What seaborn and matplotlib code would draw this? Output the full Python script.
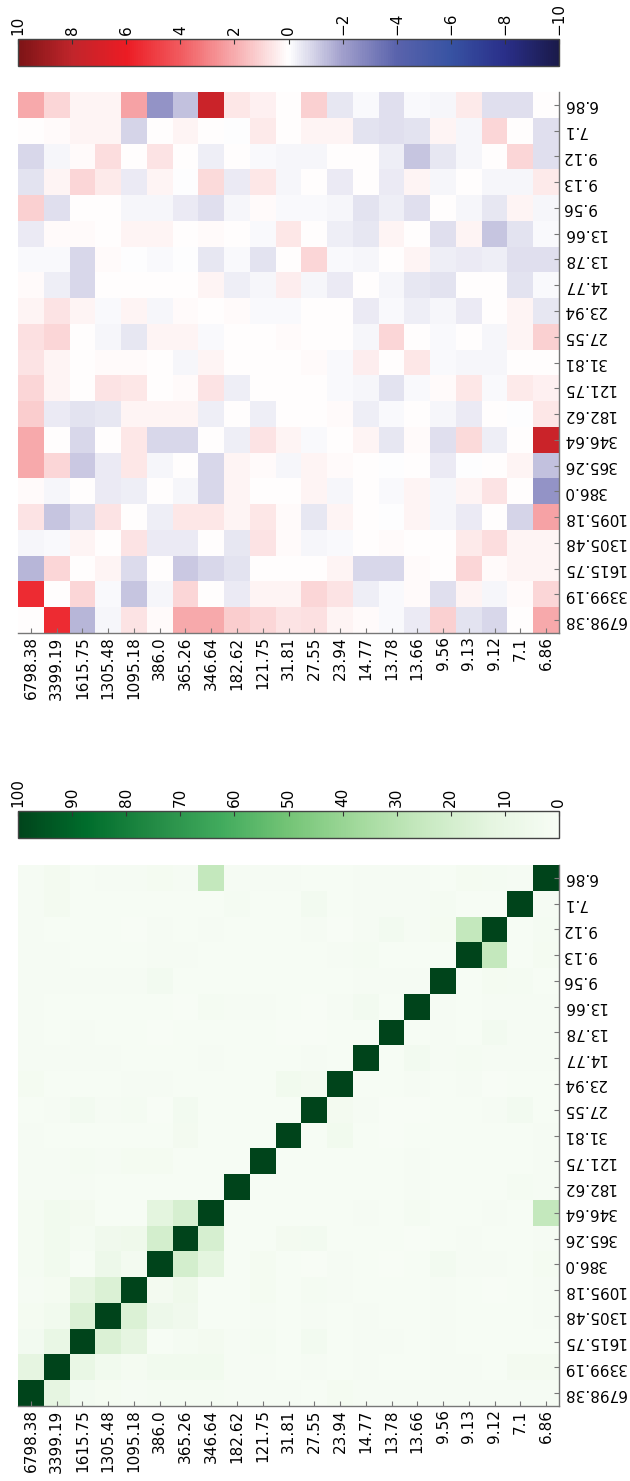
import numpy as np
import pandas as pd
import matplotlib
matplotlib.use("Agg")
import matplotlib.pyplot as plt
import seaborn as sns
from matplotlib.colors import LinearSegmentedColormap

labels = ["6798.38", "3399.19", "1615.75", "1305.48", "1095.18", "386.0",
          "365.26", "346.64", "182.62", "121.75", "31.81", "27.55", "23.94",
          "14.77", "13.78", "13.66", "9.56", "9.13", "9.12", "7.1", "6.86"]

# lower triangle (row i, columns 0..i-1) of the symmetric similarity matrix (%)
similarity_lower = [
    [],
    [12],
    [3.5, 10],
    [2.5, 4, 17],
    [1.5, 2.5, 12, 17],
    [2, 4, 0.5, 7, 3],
    [2, 4, 2, 5, 6, 20],
    [2, 4, 3, 0.5, 1, 13, 19],
    [1.5, 1.5, 1.5, 1, 1, 1, 1, 1],
    [1.5, 1.5, 2, 1.5, 2.5, 2.5, 0.5, 0.5, 0.5],
    [1.5, 0.5, 1, 1, 1, 0.5, 3, 1, 1, 1],
    [1, 1.5, 3.5, 1.5, 2, 0.3, 3.5, 0.5, 1, 1, 1],
    [2.5, 0.5, 0.5, 1, 1.5, 1.5, 1, 1, 1, 1, 4, 3],
    [1.5, 1.5, 1.5, 1.5, 1, 1, 1, 1.5, 1, 1, 1, 1.5, 1],
    [1.5, 0.5, 1.5, 0.5, 1, 0.3, 1, 1, 1, 1, 0.3, 0.3, 1, 1],
    [1.5, 0.5, 1, 1, 1, 1, 0.3, 2, 1.5, 1.5, 0.5, 0.3, 1.5, 3.5, 1],
    [1.5, 1.5, 1.5, 1.5, 1.5, 3.5, 0.5, 1, 1, 1, 0.5, 1, 0.5, 1.5, 1.5, 1.5],
    [1.5, 1.5, 1, 1, 1, 1.5, 1.5, 1, 1, 0.5, 0.5, 1, 1.5, 2, 1, 0.5, 0.5],
    [1.5, 0.5, 1, 1, 0.3, 1.5, 1, 1.5, 1, 1, 1, 1.5, 0.3, 1.5, 3.5, 1.5, 2.5, 26],
    [1.5, 3, 1, 1, 1, 0.5, 0.5, 0.8, 2, 0.5, 0.5, 3.5, 1, 1.5, 1.5, 1.5, 2, 0.5, 0.5],
    [1.5, 3, 0.5, 1.5, 1.5, 2.5, 1.5, 26, 1.5, 1.5, 1.5, 0.8, 1, 1.5, 1.5, 1.5, 1, 2.5, 2, 1.5],
]
similarity_diag = 100

# lower triangle of the symmetric difference matrix
difference_lower = [
    [],
    [5.5],
    [-1.5, 1.0],
    [-0.2, -0.1, 0.25],
    [0.65, -1.25, -0.75, 0.7],
    [0.1, -0.2, 0, -0.45, -0.35],
    [2.1, 0.95, -1.15, -0.45, 0.55, -0.2],
    [2.05, 0.05, -0.8, 0, 0.6, -0.8, -0.8],
    [1.2, -0.45, -0.55, -0.5, 0.3, 0.3, 0.3, -0.35],
    [0.95, 0.3, 0, 0.7, 0.55, 0, 0.1, 0.7, -0.35],
    [0.65, 0.25, 0, 0.1, 0.1, 0, -0.2, 0.25, 0, 0],
    [0.75, 1.0, 0, -0.2, -0.5, 0.3, 0.3, -0.1, 0, 0, 0.1],
    [0.3, 0.7, 0.25, -0.1, 0.25, -0.2, 0.1, 0, 0.1, -0.1, -0.1, 0],
    [0.1, -0.35, -0.85, 0, 0, 0, 0, 0.25, -0.35, -0.2, 0.45, -0.2, -0.45],
    [-0.1, -0.1, -0.8, 0.1, -0.05, -0.1, -0.05, -0.5, -0.1, -0.6, 0, 1.0, -0.1, -0.2],
    [-0.45, 0.1, 0.1, 0, 0.25, 0.3, 0, 0.1, 0, -0.1, 0.55, 0, -0.35, -0.5, 0.3],
    [1.1, -0.7, 0, 0, -0.2, -0.2, -0.45, -0.65, -0.2, 0.1, -0.15, -0.15, -0.2, -0.6, -0.35, -0.65],
    [-0.6, 0.25, 1.0, 0.5, -0.45, 0.25, -0.05, 0.9, -0.45, 0.55, -0.2, 0, -0.45, 0, -0.45, 0.25, -0.2],
    [-0.85, -0.2, 0.1, 0.8, 0, 0.7, 0, -0.35, 0, -0.15, -0.2, -0.2, 0, 0, -0.35, -1.25, -0.5, -0.2],
    [0, 0.1, 0.3, 0.3, -0.9, 0.05, 0.25, 0, -0.05, 0.5, 0, 0.3, 0.25, -0.55, -0.65, -0.55, 0.25, -0.2, 1.0],
    [2.1, 1.0, 0.3, 0.3, 2.2, -2.4, -1.3, 7.5, 0.6, 0.35, 0, 1.1, -0.5, -0.1, -0.7, -0.1, -0.2, 0.5, -0.7, -0.7],
]
difference_diag = 0

green_ticks = [100, 90, 80, 70, 60, 50, 40, 30, 20, 10, 0]
diff_ticks = [10, 8, 6, 4, 2, 0, -2, -4, -6, -8, -10]


def symmetric(lower, diag):
    n = len(lower)
    m = np.full((n, n), float(diag))
    for i, row in enumerate(lower):
        for j, v in enumerate(row):
            m[i, j] = v
            m[j, i] = v
    return m


sim = pd.DataFrame(symmetric(similarity_lower, similarity_diag), index=labels, columns=labels)
diff = pd.DataFrame(symmetric(difference_lower, difference_diag), index=labels, columns=labels)

diff_cmap = LinearSegmentedColormap.from_list("diff", [
    (0.0, "#1a1a4a"), (0.1, "#2a2f8a"), (0.2, "#3853a3"), (0.3, "#5a63ac"),
    (0.4, "#a19fcc"), (0.5, "#ffffff"), (0.6, "#f7acae"), (0.7, "#f15b5f"),
    (0.8, "#ec1c24"), (0.9, "#c1252b"), (1.0, "#7d1416")])

FS = 11
SPINE = "#777777"
W, H = 630, 1481
fig = plt.figure(figsize=(W / 100, H / 100), dpi=100)


def frac(x0, y0, w, h):
    return [x0 / W, 1 - (y0 + h) / H, w / W, h / H]


def draw(df, cmap, vmin, vmax, ticks, hm_rect, cb_rect):
    ax = fig.add_axes(frac(*hm_rect))
    cax = fig.add_axes(frac(*cb_rect))
    shown = df.iloc[::-1]
    sns.heatmap(shown, ax=ax, cmap=cmap, vmin=vmin, vmax=vmax, cbar_ax=cax,
                cbar_kws={"orientation": "horizontal"},
                xticklabels=True, yticklabels=True)
    ax.yaxis.tick_right()
    for side in ["bottom", "right"]:
        ax.spines[side].set_visible(True)
        ax.spines[side].set_color(SPINE)
        ax.spines[side].set_linewidth(1.0)
    for side in ["top", "left"]:
        ax.spines[side].set_visible(False)
    ax.tick_params(axis="both", direction="in", length=3.5, width=0.8,
                   color=SPINE, pad=2.5, labelsize=FS)
    ax.tick_params(axis="y", left=False, right=True, labelleft=False, labelright=True)
    ax.tick_params(axis="x", top=False, bottom=True)
    ax.set_xticklabels(list(shown.columns))
    ax.set_yticklabels(list(shown.index))
    for t in ax.get_xticklabels():
        t.set_rotation(90)
        t.set_ha("center")
        t.set_va("top")
    for t in ax.get_yticklabels():
        t.set_rotation(180)
        t.set_ha("left")
        t.set_va("center")
    ax.set_xlabel("")
    ax.set_ylabel("")

    cbar = ax.collections[0].colorbar
    cbar.set_ticks(ticks)
    cax.set_xlim(vmax, vmin)
    cax.xaxis.set_ticks_position("top")
    cax.xaxis.set_label_position("top")
    cax.tick_params(axis="x", direction="in", length=3.5, width=0.8,
                    color="#333333", labelsize=FS, pad=3, labelrotation=90)
    cbar.outline.set_edgecolor("#444444")
    cbar.outline.set_linewidth(1.0)


draw(diff, diff_cmap, -10, 10, diff_ticks, (18, 92, 541, 541), (18, 39, 541, 27))
draw(sim, "Greens", 0, 100, green_ticks, (18, 865, 541, 541), (18, 811, 541, 27))

fig.savefig("out.png", dpi=100)
